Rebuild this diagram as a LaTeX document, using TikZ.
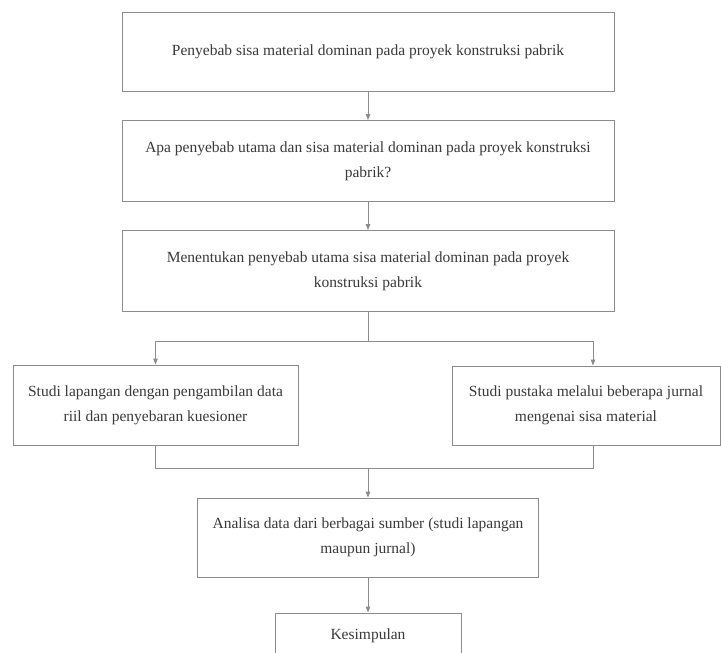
\documentclass[tikz,border=0pt]{standalone}
\usepackage{fontspec}
\setmainfont{Liberation Serif}
\usetikzlibrary{arrows.meta,calc}
\definecolor{linegray}{HTML}{8C8C8C}
\definecolor{txtgray}{HTML}{3A3A3A}
\begin{document}
\begin{tikzpicture}[x=1pt,y=-1pt,
  box/.style={draw=linegray,line width=0.9pt,fill=white,inner sep=0pt,align=center,
    text=txtgray,font=\fontsize{15.5}{25}\selectfont},
  conn/.style={draw=linegray,line width=0.9pt},
  arr/.style={conn,-{Triangle[length=6pt,width=4.5pt]}}]
\useasboundingbox (0,0) rectangle (721,653);
\clip (0,0) rectangle (721,653);
\fill[white] (0,0) rectangle (721,653);
\node[box,minimum width=492pt,minimum height=79pt] (b1) at (368,51.5)
  {Penyebab sisa material dominan pada proyek konstruksi pabrik};
\node[box,minimum width=492pt,minimum height=81pt] (b2) at (368,161)
  {Apa penyebab utama dan sisa material dominan pada proyek konstruksi\\pabrik?};
\node[box,minimum width=492pt,minimum height=81pt] (b3) at (368,271)
  {Menentukan penyebab utama sisa material dominan pada proyek\\konstruksi pabrik};
\node[box,minimum width=285pt,minimum height=80pt] (b4) at (155.5,405)
  {Studi lapangan dengan pengambilan data\\riil dan penyebaran kuesioner};
\node[box,minimum width=268pt,minimum height=79pt] (b5) at (586,405.5)
  {Studi pustaka melalui beberapa jurnal\\mengenai sisa material};
\node[box,minimum width=341pt,minimum height=79pt] (b6) at (368,537.5)
  {Analisa data dari berbagai sumber (studi lapangan\\maupun jurnal)};
\node[box,minimum width=186pt,minimum height=46pt] (b7) at (368,636)
  {Kesimpulan};
\coordinate (split) at (368,341);
\coordinate (rt) at (593,341);
\coordinate (rb) at (593,468);
\coordinate (merge) at (368,468);
\draw[arr] (b1) -- (b2);
\draw[arr] (b2) -- (b3);
\draw[conn] (b3.south) -- (split);
\draw[arr] (split) -| (b4.north);
\draw[arr] (split) -- (rt) -- (rt |- b5.north);
\draw[conn] (b4.south) |- (merge);
\draw[conn] (rb |- b5.south) -- (rb) -- (merge);
\draw[arr] (merge) -- (b6.north);
\draw[arr] (b6) -- (b7);
\end{tikzpicture}
\end{document}
